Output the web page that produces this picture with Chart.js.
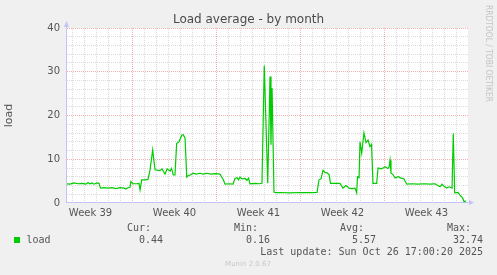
<!DOCTYPE html>
<html>
<head>
<meta charset="utf-8">
<script src="https://cdn.jsdelivr.net/npm/chart.js@4/dist/chart.umd.min.js"></script>
<style>
  html, body { margin: 0; background: #f0f0f0; }
  canvas { display: block; }
</style>
</head>
<body>
<canvas id="chart" width="497" height="275"></canvas>
<script>
// days since Monday of week 40 (Sep 29 2025)
const days = [
  -5.54, -5.21, -4.88, -4.54, -4.21, -3.88, -3.71, -3.54, -3.38, -3.21,
  -2.96, -2.79, -2.67, -2.38, -2.04, -1.71, -1.38, -1.04, -0.71, -0.54,
  -0.38, -0.21, -0.13, 0.04, 0.38, 0.54, 0.63, 0.77, 1.04, 1.29,
  1.46, 1.68, 1.88, 2.04, 2.29, 2.46, 2.58, 2.71, 2.88, 3.13,
  3.25, 3.40, 3.54, 3.68, 3.88, 4.10, 4.23, 4.38, 4.52, 4.63,
  4.79, 5.07, 5.29, 5.63, 5.88, 6.21, 6.54, 6.88, 7.29, 7.57,
  7.71, 8.04, 8.38, 8.54, 8.71, 8.83, 8.96, 9.13, 9.38, 9.54,
  9.67, 9.79, 10.21, 10.54, 10.79, 10.98, 11.27, 11.46, 11.54, 11.63,
  11.79, 11.92, 12.29, 13.13, 13.96, 14.79, 15.38, 15.54, 15.71, 15.88,
  16.04, 16.21, 16.38, 16.5, 16.88, 17.29, 17.54, 17.79, 18.04, 18.29,
  18.54, 18.68, 18.75, 18.88, 18.96, 19.1, 19.29, 19.46, 19.63, 19.79,
  19.92, 20.04, 20.35, 20.46, 20.71, 20.88, 21.04, 21.29, 21.38, 21.46,
  21.54, 21.71, 21.88, 22.13, 22.38, 22.63, 22.85, 23.29, 23.79, 24.29,
  24.79, 25.21, 25.38, 25.63, 25.79, 25.96, 26.18, 26.38, 26.63, 26.73,
  26.85, 27.13, 27.29, 27.52, 27.63, 27.79
]
const load = [
  4.4, 4.3, 4.6, 4.4, 4.5, 4.3, 4.7, 4.4, 4.6, 4.3,
  4.6, 4.5, 3.4, 3.5, 3.4, 3.5, 3.3, 3.5, 3.4, 3.2,
  3.5, 3.6, 4.9, 4.4, 4.4, 4.5, 3.0, 5.3, 5.3, 5.4,
  7.5, 12.1, 7.6, 7.5, 7.4, 7.8, 7.2, 6.6, 7.8, 7.3,
  7.9, 6.4, 6.4, 13.6, 14.0, 15.5, 15.6, 14.8, 5.9, 6.2,
  6.4, 6.8, 6.6, 6.8, 6.6, 6.8, 6.6, 6.7, 6.6, 5.3,
  4.3, 4.4, 4.3, 5.6, 5.8, 5.3, 5.9, 5.5, 5.6, 5.2,
  5.7, 4.4, 4.5, 4.4, 4.5, 31.4, 4.5, 28.9, 13.3, 26.3,
  2.5, 2.35, 2.4, 2.3, 2.4, 2.35, 2.4, 5.3, 5.5, 7.5,
  7.0, 6.9, 6.5, 4.5, 4.5, 4.5, 3.4, 4.0, 3.4, 3.3,
  3.4, 2.3, 6.0, 5.8, 14.0, 11.4, 16.0, 13.8, 14.4, 12.9,
  13.4, 4.5, 4.5, 8.0, 7.8, 8.0, 8.3, 7.9, 8.2, 9.8,
  6.8, 6.5, 5.7, 6.0, 5.7, 5.5, 4.3, 4.4, 4.3, 4.4,
  4.3, 4.4, 4.1, 3.7, 4.3, 3.8, 3.4, 3.7, 3.4, 15.9,
  2.3, 2.4, 1.8, 1.1, 0.3, 0.44
]
const weekLabels = ['Week 39', 'Week 40', 'Week 41', 'Week 42', 'Week 43']
const weekMid = [-3.5, 3.5, 10.5, 17.5, 24.5]
const statNames = ['Cur:', 'Min:', 'Avg:', 'Max:']
const statValues = ['0.44', '0.16', '5.57', '32.74']

const MAJOR = '#f4b0b0'
const MINOR = '#dadada'
const NONE = 'rgba(0,0,0,0)'
const SANS = '"DejaVu Sans", sans-serif'
const MONO = '"DejaVu Sans Mono", monospace'

const munin = {
  id: 'munin',
  beforeDraw(chart) {
    const { ctx, chartArea: a } = chart
    ctx.save()
    ctx.fillStyle = '#f0f0f0'
    ctx.fillRect(0, 0, chart.width, chart.height)
    ctx.fillStyle = '#ffffff'
    ctx.fillRect(a.left, a.top, a.right - a.left, a.bottom - a.top)
    ctx.restore()
  },
  beforeDatasetsDraw(chart) {
    const { ctx, chartArea: a } = chart
    ctx.save()
    ctx.strokeStyle = '#c4c4f4'
    ctx.fillStyle = '#c4c4f4'
    ctx.lineWidth = 1
    ctx.beginPath()
    ctx.moveTo(a.left - 0.5, a.bottom)
    ctx.lineTo(a.left - 0.5, a.top - 4)
    ctx.moveTo(a.left - 1, a.bottom - 0.5)
    ctx.lineTo(a.right + 2, a.bottom - 0.5)
    ctx.stroke()
    ctx.beginPath()
    ctx.moveTo(a.left - 3, a.top - 1)
    ctx.lineTo(a.left + 2, a.top - 1)
    ctx.lineTo(a.left - 0.5, a.top - 7)
    ctx.fill()
    ctx.beginPath()
    ctx.moveTo(a.right + 1, a.bottom - 3)
    ctx.lineTo(a.right + 1, a.bottom + 2)
    ctx.lineTo(a.right + 6, a.bottom - 0.5)
    ctx.fill()
    ctx.restore()
  },
  afterDraw(chart) {
    const ctx = chart.ctx
    ctx.save()
    // title
    ctx.fillStyle = '#4a4a4a'
    ctx.font = '12px ' + SANS
    ctx.textAlign = 'center'
    ctx.textBaseline = 'alphabetic'
    ctx.fillText('Load average - by month', 248.5, 23)

    // watermark
    ctx.save()
    ctx.translate(488, 5)
    ctx.rotate(Math.PI / 2)
    ctx.font = '9px ' + SANS
    ctx.fillStyle = '#c4c4c4'
    ctx.textAlign = 'left'
    ctx.textBaseline = 'middle'
    const wm = 'RRDTOOL / TOBI OETIKER'
    ctx.scale(97 / ctx.measureText(wm).width, 1)
    ctx.fillText(wm, 0, 0)
    ctx.restore()

    // legend
    ctx.font = '10px ' + MONO
    ctx.fillStyle = '#555'
    ctx.textBaseline = 'middle'
    const headX = [127, 234, 340, 447]
    const valRight = [163, 270, 376, 483]
    ctx.textAlign = 'left'
    statNames.forEach((s, i) => ctx.fillText(s, headX[i], 228))
    ctx.fillText('load', 26.5, 240)
    ctx.textAlign = 'right'
    statValues.forEach((s, i) => ctx.fillText(s, valRight[i], 240))
    ctx.fillText('Last update: Sun Oct 26 17:00:20 2025', 483, 252)
    ctx.fillStyle = '#00cc00'
    ctx.fillRect(14, 237, 6, 6)

    ctx.font = '7px ' + SANS
    ctx.fillStyle = '#c8c8c8'
    ctx.textAlign = 'center'
    ctx.fillText('Munin 2.0.67', 248, 264)
    ctx.restore()
  }
}

new Chart(document.getElementById('chart'), {
  type: 'line',
  data: {
    datasets: [{
      label: 'load',
      data: days.map((d, i) => ({ x: d, y: load[i] })),
      borderColor: '#00cc00',
      borderWidth: 1.2,
      pointRadius: 0,
      tension: 0,
      fill: false
    }]
  },
  options: {
    responsive: false,
    animation: false,
    layout: { padding: { top: 28, right: 29, left: 0, bottom: 0 } },
    plugins: { legend: { display: false }, tooltip: { enabled: false } },
    scales: {
      x: {
        type: 'linear',
        min: -5.458,
        max: 27.958,
        afterBuildTicks: s => {
          const t = []
          for (let d = -5; d <= 27; d++) t.push({ value: d })
          weekMid.forEach(v => t.push({ value: v }))
          t.sort((a, b) => a.value - b.value)
          s.ticks = t
        },
        afterFit: s => { s.height = 72 },
        ticks: {
          autoSkip: false,
          maxRotation: 0,
          padding: 4,
          color: '#555',
          font: { family: SANS, size: 10 },
          callback: v => {
            const i = weekMid.indexOf(v)
            return i < 0 ? '' : weekLabels[i]
          }
        },
        grid: {
          drawTicks: false,
          lineWidth: 1,
          color: c => {
            const v = c.tick.value
            if (!Number.isInteger(v)) return NONE
            return v % 7 === 0 ? MAJOR : MINOR
          }
        },
        border: { display: false, dash: [1, 1] }
      },
      y: {
        min: 0,
        max: 40,
        afterFit: s => { s.width = 67 },
        title: {
          display: true,
          text: 'load',
          color: '#555',
          font: { family: SANS, size: 11 },
          padding: { top: 3, bottom: 0 }
        },
        ticks: {
          stepSize: 2,
          autoSkip: false,
          padding: 7,
          color: '#555',
          font: { family: SANS, size: 10 },
          callback: v => (v % 10 === 0 ? String(v) : '')
        },
        grid: {
          drawTicks: false,
          lineWidth: 1,
          color: c => {
            const v = c.tick.value
            if (v === 0) return NONE
            return v % 10 === 0 ? MAJOR : MINOR
          }
        },
        border: { display: false, dash: [1, 1] }
      }
    }
  },
  plugins: [munin]
})
</script>
</body>
</html>
